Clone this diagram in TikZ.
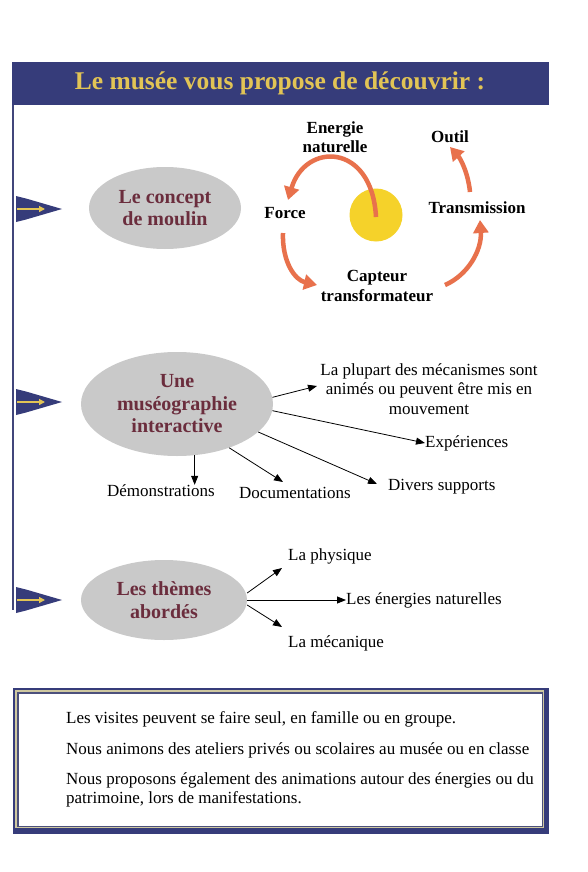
\documentclass[tikz,border=0pt]{standalone}
\usepackage{fontspec}
\setmainfont{Liberation Serif}
\usetikzlibrary{shapes.geometric,arrows.meta}
\definecolor{navy}{HTML}{363C7A}
\definecolor{gold}{HTML}{E2C455}
\definecolor{egray}{HTML}{C9C9C9}
\definecolor{maroon}{HTML}{6B2D3D}
\definecolor{orng}{HTML}{E8714C}
\definecolor{sunc}{HTML}{F5D22A}
\definecolor{framegold}{HTML}{CFC8A0}
\begin{document}
\begin{tikzpicture}[x=1pt,y=-1pt,
 ell/.style={ellipse, fill=egray, inner sep=0pt, text=maroon, font=\fontsize{20}{22.5}\selectfont\bfseries, align=center},
 cyc/.style={font=\fontsize{17}{19.5}\selectfont\bfseries, align=center, inner sep=0pt},
 lbl/.style={font=\fontsize{17}{19.5}\selectfont, align=center, inner sep=0pt},
 boxtxt/.style={font=\fontsize{17}{19}\selectfont, align=left, inner sep=0pt, anchor=west},
 ca/.style={orng, line width=4.5pt, -{Triangle[length=13pt,width=15pt]}},
 ba/.style={black, line width=0.8pt, -{Triangle[length=9pt,width=7pt]}},
 blockarrow/.style={fill=navy},
]
\path[use as bounding box, fill=white] (0,0) rectangle (587,872);

% title bar
\fill[navy] (12,62) rectangle (549,105);
\node[font=\fontsize{25.5}{28}\selectfont\bfseries, text=gold, inner sep=0pt] (title) at (280,83) {Le musée vous propose de découvrir :};

% left line
\draw[navy!85!gray, line width=2pt] (13,105) -- (13,610);

% block arrows
\foreach \yy in {209,402,600} {
  \fill[blockarrow] (16,\yy-13) -- (26,\yy-10.5) -- (62,\yy) -- (26,\yy+10.5) -- (16,\yy+13) -- cycle;
  \draw[gold, line width=1.3pt, -{Triangle[length=6pt,width=6pt]}] (17,\yy) -- (45,\yy);
}

% section 1
\node[ell, minimum width=152pt, minimum height=82pt] (e1) at (165,208) {Le concept\\de moulin};
\node[circle, fill=sunc, minimum size=53pt, inner sep=0pt] (sun) at (376,215) {};
\node[cyc] (en) at (335,137) {Energie\\naturelle};
\node[cyc] (outil) at (450,137) {Outil};
\node[cyc] (force) at (285,213) {Force};
\node[cyc] (trans) at (477,208) {Transmission};
\node[cyc] (capt) at (377,286) {Capteur\\transformateur};

\coordinate (a1s) at (376,217);
\coordinate (a1e) at (288,200);
\coordinate (a2s) at (283,233);
\coordinate (a2e) at (317,285);
\coordinate (a3s) at (445,285);
\coordinate (a3e) at (480,220);
\coordinate (a4s) at (470,192);
\coordinate (a4e) at (450,147);
\draw[ca] (a1s) .. controls (372,142) and (305,142) .. (a1e);
\draw[ca] (a2s) .. controls (282,262) and (295,280) .. (a2e);
\draw[ca] (a3s) .. controls (468,275) and (482,250) .. (a3e);
\draw[ca] (a4s) .. controls (468,172) and (460,158) .. (a4e);

% section 2
\node[ell, minimum width=192pt, minimum height=104pt] (e2) at (177,404) {Une\\muséographie\\interactive};
\node[lbl] (pl) at (429,389) {La plupart des mécanismes sont\\animés ou peuvent être mis en\\mouvement};
\node[lbl, anchor=west] (exp) at (425,443) {Expériences};
\node[lbl, anchor=west] (div) at (388,487) {Divers supports};
\node[lbl, anchor=west] (doc) at (239,493) {Documentations};
\node[lbl] (dem) at (161,491) {Démonstrations};
\coordinate (plt) at (317,386);
\draw[ba] (e2.4) -- (plt);
\draw[ba] (e2.-4) -- (exp.west);
\draw[ba] (e2.-19) -- (377,484);
\draw[ba] (e2.-40) -- (283,482);
\draw[ba] (e2.-71) -- (e2.-71 |- dem.north);

% section 3
\node[ell, minimum width=166pt, minimum height=80pt] (e3) at (164,600) {Les thèmes\\abordés};
\node[lbl, anchor=west] (phy) at (288,556) {La physique};
\node[lbl, anchor=west] (ene) at (346,600) {Les énergies naturelles};
\node[lbl, anchor=west] (meca) at (288,643) {La mécanique};
\draw[ba] (e3.east) ++(0,-7) -- (282,568);
\draw[ba] (e3.east) -- (ene.west);
\draw[ba] (e3.east) ++(0,5) -- (282,627);

% bottom box
\fill[navy] (13,688) rectangle (549,834);
\fill[framegold] (15,690) rectangle (544,828);
\fill[navy!70!gray] (17,692) rectangle (543,827);
\fill[white] (19,694) rectangle (542,826);
\node[boxtxt] (t1) at (66,719) {Les visites peuvent se faire seul, en famille ou en groupe.};
\node[boxtxt] (t2) at (66,750) {Nous animons des ateliers privés ou scolaires au musée ou en classe};
\node[boxtxt, anchor=north west] (t3) at (66,772) {Nous proposons également des animations autour des énergies ou du\\patrimoine, lors de manifestations.};
\end{tikzpicture}
\end{document}
